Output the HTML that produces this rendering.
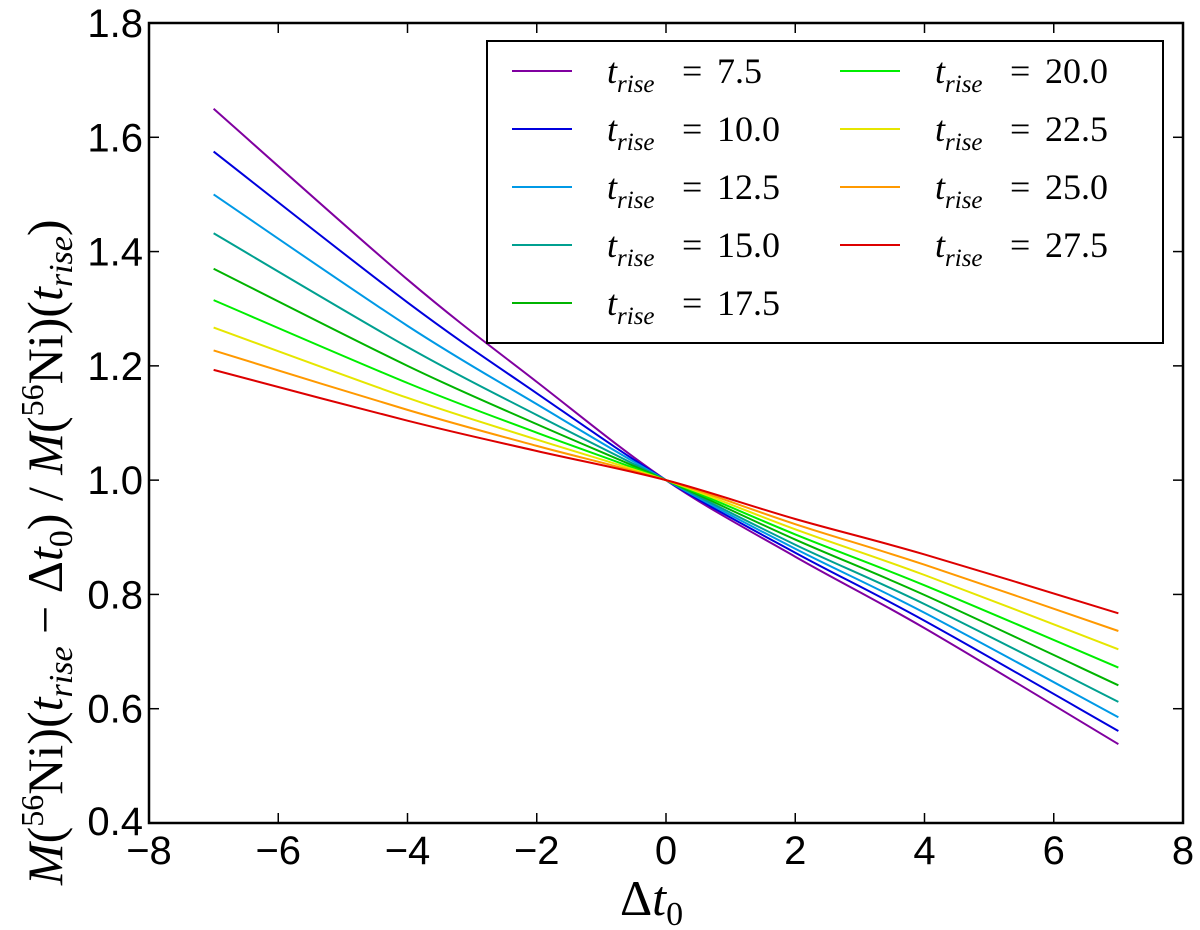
<!DOCTYPE html>
<html><head><meta charset="utf-8"><style>body{margin:0;background:#fff}svg{display:block}</style></head>
<body>
<svg id="chart" width="1200" height="930" viewBox="0 0 1200 930" xmlns="http://www.w3.org/2000/svg">
<text transform="translate(62,885) rotate(-90)" font-family="Liberation Serif, DejaVu Serif, serif" font-size="50"><tspan font-style="italic">M</tspan>(<tspan font-size="32" dy="-19">56</tspan><tspan dy="19">Ni)(</tspan><tspan font-style="italic">t</tspan><tspan font-style="italic" font-size="34" dy="10">rise</tspan><tspan dy="-10"> − Δ</tspan><tspan font-style="italic">t</tspan><tspan font-size="34" dy="10">0</tspan><tspan dy="-10">) / </tspan><tspan font-style="italic">M</tspan>(<tspan font-size="32" dy="-19">56</tspan><tspan dy="19">Ni)(</tspan><tspan font-style="italic">t</tspan><tspan font-style="italic" font-size="34" dy="10">rise</tspan><tspan dy="-10">)</tspan></text>
<text x="620" y="915" font-family="Liberation Serif, DejaVu Serif, serif" font-size="50">Δ<tspan font-style="italic">t</tspan><tspan font-size="34" dy="10">0</tspan></text>
</svg>
<script>
const xTicks=[-8,-6,-4,-2,0,2,4,6,8];
const yTicks=[0.4,0.6,0.8,1.0,1.2,1.4,1.6,1.8];
const xTickLabels=["\u22128","\u22126","\u22124","\u22122","0","2","4","6","8"];
const yTickLabels=["0.4","0.6","0.8","1.0","1.2","1.4","1.6","1.8"];
const xs=[-7,-4,-2,0,2,4,7];
const labels=["7.5","10.0","12.5","15.0","17.5","20.0","22.5","25.0","27.5"];
const s1=[1.65,1.351,1.172,1,0.866,0.741,0.538];
const s2=[1.575,1.311,1.152,1,0.873,0.754,0.561];
const s3=[1.50,1.270,1.133,1,0.880,0.768,0.585];
const s4=[1.432,1.233,1.114,1,0.887,0.783,0.612];
const s5=[1.37,1.200,1.098,1,0.896,0.799,0.641];
const s6=[1.315,1.170,1.083,1,0.905,0.816,0.672];
const s7=[1.267,1.144,1.071,1,0.914,0.834,0.704];
const s8=[1.227,1.123,1.060,1,0.923,0.852,0.736];
const s9=[1.193,1.104,1.051,1,0.932,0.870,0.767];
const series=[s1,s2,s3,s4,s5,s6,s7,s8,s9];
const colors=["#8000a0","#0000dd","#0099e6","#00a090","#00b400","#00ee00","#e6e600","#ff9900","#dd0000"];
const L=149,R=1183,T=23,B=823;
const X=v=>L+(v+8)/16*(R-L);
const Y=v=>B-(v-0.4)/1.4*(B-T);
const svg=document.getElementById('chart');
const NS="http://www.w3.org/2000/svg";
function mk(tag,attrs,parent){const e=document.createElementNS(NS,tag);for(const k in attrs)e.setAttribute(k,attrs[k]);(parent||svg).appendChild(e);return e;}
series.forEach((s,i)=>{
  const pts=xs.map((x,j)=>[X(x),Y(s[j])]);
  let d="M"+pts[0][0]+","+pts[0][1];
  for(let j=0;j<pts.length-1;j++){
    const p0=pts[Math.max(j-1,0)],p1=pts[j],p2=pts[j+1],p3=pts[Math.min(j+2,pts.length-1)];
    const c1=[p1[0]+(p2[0]-p0[0])/6,p1[1]+(p2[1]-p0[1])/6],c2=[p2[0]-(p3[0]-p1[0])/6,p2[1]-(p3[1]-p1[1])/6];
    d+=` C${c1[0]},${c1[1]} ${c2[0]},${c2[1]} ${p2[0]},${p2[1]}`;
  }
  const p=mk('path',{d:d,fill:'none',stroke:colors[i],'stroke-width':2});
  
  
});
const fr=mk('rect',{x:L,y:T,width:R-L,height:B-T,fill:'none',stroke:'#000','stroke-width':2.5});


xTicks.forEach((t,i)=>{
  mk('line',{x1:X(t),x2:X(t),y1:B,y2:B-10,stroke:'#000','stroke-width':1.5});
  mk('line',{x1:X(t),x2:X(t),y1:T,y2:T+10,stroke:'#000','stroke-width':1.5});
  const tx=mk('text',{x:X(t),y:864,'text-anchor':'middle','font-family':'Liberation Sans, DejaVu Sans, sans-serif','font-size':40});
  tx.textContent=xTickLabels[i];
  
  
});
yTicks.forEach((t,i)=>{
  mk('line',{x1:L,x2:L+10,y1:Y(t),y2:Y(t),stroke:'#000','stroke-width':1.5});
  mk('line',{x1:R,x2:R-10,y1:Y(t),y2:Y(t),stroke:'#000','stroke-width':1.5});
  const tx=mk('text',{x:143,y:Y(t)+(i==0?12:14),'text-anchor':'end','font-family':'Liberation Sans, DejaVu Sans, sans-serif','font-size':40});
  tx.textContent=yTickLabels[i];
  
  
});
const lg=mk('rect',{x:487,y:41,width:676,height:302,fill:'#fff',stroke:'#000','stroke-width':2});


labels.forEach((lab,i)=>{
  const col=i<5?0:1,row=i<5?i:i-5;
  const lx=col?840:512,ly=71+row*58;
  const g=mk('g',{});
  
  
  mk('line',{x1:lx,x2:lx+60,y1:ly,y2:ly,stroke:colors[i],'stroke-width':2},g);
  const tx=lx+95;
  const t=mk('text',{x:tx,y:ly+12,'font-family':'Liberation Serif, DejaVu Serif, serif','font-size':36},g);
  t.innerHTML=`<tspan font-style="italic">t</tspan><tspan font-style="italic" font-size="25" dy="9">rise</tspan>`;
  const e=mk('text',{x:tx+75,y:ly+12,'font-family':'Liberation Serif, DejaVu Serif, serif','font-size':36},g);
  e.textContent='=';
  const v=mk('text',{x:tx+110,y:ly+12,'font-family':'Liberation Serif, DejaVu Serif, serif','font-size':36},g);
  v.textContent=lab;
});
</script>
</body></html>
